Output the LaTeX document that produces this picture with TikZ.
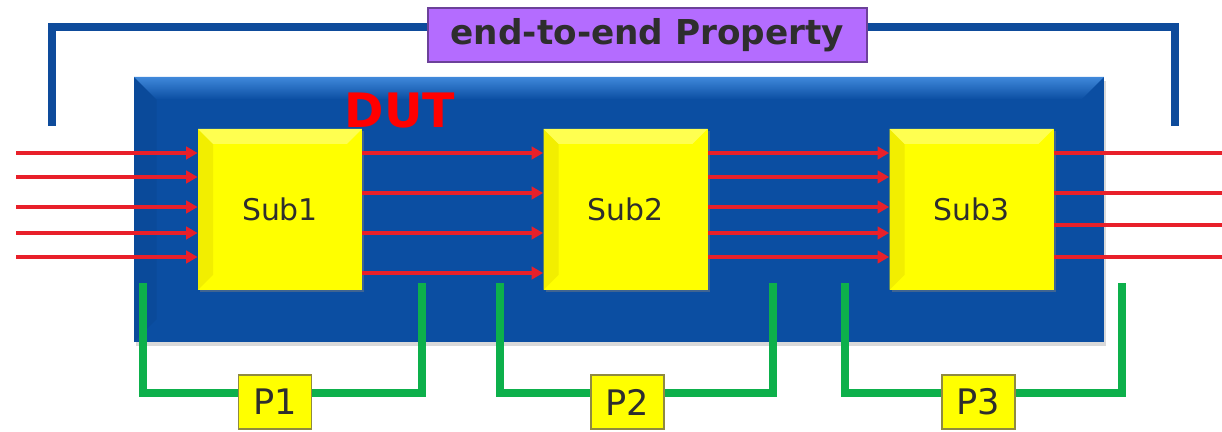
\documentclass[tikz,border=0pt]{standalone}
\usepackage{fontspec}
\setmainfont{DejaVu Sans}
\usetikzlibrary{positioning, arrows.meta, calc, shadows}
\definecolor{dutblue}{HTML}{0B4EA2}
\definecolor{dutlight}{HTML}{3F88DA}
\definecolor{dutdark}{HTML}{0A4A9A}
\definecolor{subyellow}{HTML}{FFFF00}
\definecolor{subdark}{HTML}{F2EE00}
\definecolor{sublight}{HTML}{FFFF50}
\definecolor{sigred}{HTML}{E8202A}
\definecolor{propgreen}{HTML}{0DB04B}
\definecolor{proppurple}{HTML}{B46CFF}
\definecolor{brkblue}{HTML}{0E4B9B}
\definecolor{txtgrey}{HTML}{2E2E2E}

\begin{document}
\begin{tikzpicture}[
  dutbox/.style={fill=dutblue, inner sep=0pt,
    minimum width=19.4cm, minimum height=5.3cm,
    drop shadow={shadow xshift=0.03cm, shadow yshift=-0.09cm, opacity=0.3},
    path picture={
      \fill[dutdark] (path picture bounding box.north west) -- ++(0.45,-0.45)
        -- ($(path picture bounding box.south west)+(0.45,0.45)$)
        -- (path picture bounding box.south west) -- cycle;
      \shade[top color=dutlight, bottom color=dutblue]
        (path picture bounding box.north west) -- (path picture bounding box.north east)
        -- ++(-0.45,-0.45) -- ($(path picture bounding box.north west)+(0.45,-0.45)$) -- cycle;
    }},
  subbox/.style={fill=subyellow, inner sep=0pt,
    minimum width=3.28cm, minimum height=3.22cm,
    font=\fontsize{17}{20}\selectfont, text=txtgrey,
    drop shadow={shadow xshift=0.04cm, shadow yshift=-0.04cm, opacity=0.45},
    path picture={
      \fill[subdark] (path picture bounding box.north west) -- ++(0.3,-0.3)
        -- ($(path picture bounding box.south west)+(0.3,0.3)$)
        -- (path picture bounding box.south west) -- cycle;
      \fill[sublight] (path picture bounding box.north west) -- (path picture bounding box.north east)
        -- ++(-0.3,-0.3) -- ($(path picture bounding box.north west)+(0.3,-0.3)$) -- cycle;
    }},
  sig/.style={sigred, line width=2.8pt},
  sigin/.style={sig, -{Triangle[length=6.5pt, width=7pt]}},
  plabel/.style={fill=subyellow, draw=olive!55!gray, line width=0.7pt, inner sep=0pt,
    minimum width=1.46cm, minimum height=1.08cm,
    font=\fontsize{20}{24}\selectfont, text=txtgrey},
  pbrack/.style={propgreen, line width=4.5pt},
  ebrack/.style={brkblue, line width=5pt},
]
\useasboundingbox (0,0) rectangle (24.44,8.64);

% device under test and its three blocks
\node[dutbox] (dut) at (12.38,4.45) {};
\node[text=red, font=\fontsize{27}{30}\selectfont\bfseries] (dutname) at (8.0,6.42) {DUT};
\foreach \s/\x in {1/5.60, 2/12.51, 3/19.43}
  \node[subbox] (sub\s) at (\x,4.45) {Sub\s};

% signals
\foreach \y in {5.58, 5.10, 4.50, 3.98, 3.50} {
  \coordinate (in) at (0.32,\y);
  \draw[sigin] (in) -- (in -| sub1.west);
}
\foreach \y in {5.58, 4.78, 3.98, 3.18}
  \draw[sigin] (sub1.east |- 0,\y) -- (sub2.west |- 0,\y);
\foreach \y in {5.58, 5.10, 4.50, 3.98, 3.50}
  \draw[sigin] (sub2.east |- 0,\y) -- (sub3.west |- 0,\y);
\foreach \y in {5.58, 4.78, 4.14, 3.50} {
  \coordinate (out) at (24.5,\y);
  \draw[sig] (sub3.east |- out) -- (out);
}

% end-to-end bracket on top
\node[fill=proppurple, draw=proppurple!60!black, line width=0.6pt, inner sep=0pt,
      minimum width=8.78cm, minimum height=1.08cm,
      font=\fontsize{19.5}{22}\selectfont\bfseries, text=txtgrey] (prop) at (12.95,7.94)
     {end-to-end Property};
\coordinate (eL) at (1.04,6.12);
\coordinate (eR) at (23.50,6.12);
\draw[ebrack] (eL) |- ([yshift=0.16cm]prop.west);
\draw[ebrack] ([yshift=0.16cm]prop.east) -| (eR);

% local properties below
\foreach \p/\xl/\xr/\xc in {1/2.86/8.44/5.50, 2/10.00/15.46/12.55, 3/16.90/22.44/19.57} {
  \node[plabel] (p\p) at (\xc,0.60) {P\p};
  \coordinate (pl\p) at (\xl,2.98);
  \coordinate (pr\p) at (\xr,2.98);
  \draw[pbrack] (pl\p) |- ([yshift=0.18cm]p\p.west);
  \draw[pbrack] ([yshift=0.18cm]p\p.east) -| (pr\p);
}
\end{tikzpicture}
\end{document}
